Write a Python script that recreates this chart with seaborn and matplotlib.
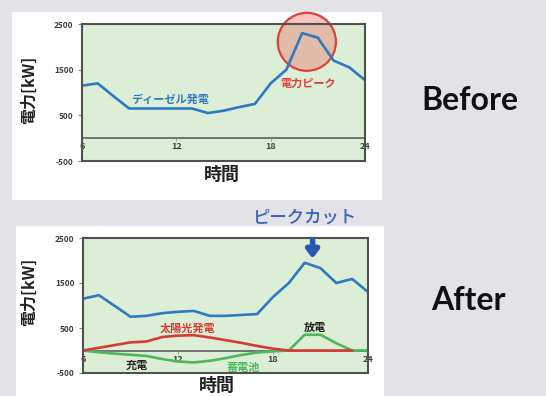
"""Before/after comparison of diesel generation with solar + battery peak cut."""
import pandas as pd
import matplotlib
matplotlib.use("Agg")
import matplotlib.pyplot as plt
from matplotlib.patches import Rectangle, Ellipse
import seaborn as sns

# values (kW per hour of day)
HOURS = list(range(6, 25))
DIESEL_BEFORE = [1150, 1200, 920, 650, 650, 650, 650, 650, 550, 600,
                 680, 750, 1200, 1500, 2300, 2200, 1700, 1550, 1270]
DIESEL_AFTER = [1150, 1230, 990, 750, 770, 830, 860, 880, 770, 770,
                790, 810, 1190, 1500, 1950, 1830, 1500, 1590, 1300]
# solar line stops at 23h in the original
SOLAR = [0, 60, 120, 180, 200, 300, 330, 340, 290, 230,
         170, 100, 40, 0, 0, 0, 0, 0, None]
BATTERY = [0, -40, -70, -95, -120, -190, -245, -265, -230, -170,
           -100, -45, -20, 0, 350, 350, 160, 0, 0]
Y_TICKS = [-500, 500, 1500, 2500]
X_TICKS = [6, 12, 18, 24]

BLUE = "#2f78c4"
RED = "#d83a36"
GREEN = "#4cb85c"
PLOT_BG = "#dcefd6"
PAGE_BG = "#e3e2e6"
JP = ["Noto Sans CJK JP", "DejaVu Sans"]


def _style_axes(ax):
    ax.set_facecolor(PLOT_BG)
    ax.set_xlim(6, 24)
    ax.set_ylim(-500, 2500)
    ax.set_yticks(Y_TICKS)
    ax.set_yticklabels([str(v) for v in Y_TICKS], fontsize=6, color="#404040",
                       fontweight="bold")
    ax.tick_params(axis="y", length=3, width=0.8, color="#888888", pad=3, left=True)
    ax.set_xticks([])
    ax.set_xlabel("")
    ax.axhline(0, color="#6a6a6a", linewidth=1.3, zorder=1)
    for side in ["left", "right", "top", "bottom"]:
        ax.spines[side].set_visible(True)
        ax.spines[side].set_color("#505050")
        ax.spines[side].set_linewidth(1.5)
    # hour labels sit on the zero line, as in the original
    sec = ax.secondary_xaxis(1 / 6)
    sec.set_xticks(X_TICKS)
    sec.set_xticklabels([str(v) for v in X_TICKS], fontsize=6.5, color="#404040",
                        fontweight="bold")
    sec.tick_params(length=2, width=0.6, color="#999999", pad=1)
    sec.spines["bottom"].set_visible(False)


def main():
    sns.set_theme(style="white")
    plt.rcParams["font.family"] = JP

    fig = plt.figure(figsize=(5.46, 3.96), dpi=100)
    fig.patch.set_facecolor(PAGE_BG)
    # white cards behind both charts
    fig.patches.append(Rectangle((12 / 546, 1 - 200 / 396), 370 / 546, 188 / 396,
                                 transform=fig.transFigure, facecolor="white",
                                 edgecolor="none", zorder=-5))
    fig.patches.append(Rectangle((16 / 546, 0), 368 / 546, 170 / 396,
                                 transform=fig.transFigure, facecolor="white",
                                 edgecolor="none", zorder=-5))

    # --- before ---
    before = pd.DataFrame({"hour": HOURS, "kW": DIESEL_BEFORE})
    ax1 = fig.add_axes([82 / 546, 1 - 161 / 396, 283 / 546, 137 / 396])
    sns.lineplot(data=before, x="hour", y="kW", color=BLUE, linewidth=1.9, ax=ax1)
    _style_axes(ax1)
    ax1.set_ylabel("電力[kW]", fontsize=11.5, fontweight="bold", color="#222222")
    ax1.yaxis.set_label_coords(-0.16, 0.52)
    ax1.text(0.495, -0.10, "時間", transform=ax1.transAxes, ha="center", va="center",
             fontsize=13, fontweight="bold", color="#222222")
    ax1.add_patch(Ellipse((20.3, 2110), 3.7, 1270, facecolor=(0.93, 0.45, 0.42, 0.42),
                          edgecolor="#e0403a", linewidth=1.6, zorder=1.5, clip_on=False))
    ax1.text(11.6, 840, "ディーゼル発電", color=BLUE, fontsize=8, fontweight="bold",
             ha="center", va="center")
    ax1.text(20.4, 1210, "電力ピーク", color="#e0403a", fontsize=8, fontweight="bold",
             ha="center", va="center")

    # --- after ---
    after = pd.DataFrame({
        "hour": HOURS * 3,
        "kW": DIESEL_AFTER + SOLAR + BATTERY,
        "source": ["diesel"] * len(HOURS) + ["solar"] * len(HOURS) + ["battery"] * len(HOURS),
    }).dropna()
    ax2 = fig.add_axes([83 / 546, 1 - 373 / 396, 285 / 546, 135 / 396])
    sns.lineplot(data=after, x="hour", y="kW", hue="source",
                 hue_order=["diesel", "battery", "solar"],
                 palette=[BLUE, GREEN, RED], linewidth=1.9, ax=ax2, legend=False)
    _style_axes(ax2)
    ax2.set_ylabel("電力[kW]", fontsize=11.5, fontweight="bold", color="#222222")
    ax2.yaxis.set_label_coords(-0.16, 0.60)
    ax2.text(0.47, -0.09, "時間", transform=ax2.transAxes, ha="center", va="center",
             fontsize=13, fontweight="bold", color="#222222")
    ax2.text(12.6, 500, "太陽光発電", color=RED, fontsize=8, fontweight="bold",
             ha="center", va="center")
    ax2.text(20.65, 520, "放電", color="#202020", fontsize=8, fontweight="bold",
             ha="center", va="center")
    ax2.text(9.4, -330, "充電", color="#202020", fontsize=8, fontweight="bold",
             ha="center", va="center")
    ax2.text(16.1, -370, "蓄電池", color=GREEN, fontsize=8, fontweight="bold",
             ha="center", va="center")
    ax2.annotate("", xy=(20.5, 1980), xytext=(20.5, 2520),
                 arrowprops=dict(arrowstyle="-|>,head_width=0.3,head_length=0.4",
                                 color="#2a58b0", lw=4),
                 annotation_clip=False)

    fig.text(305 / 546, 1 - 218 / 396, "ピークカット", color="#3a62c0", fontsize=12.5,
             fontweight="medium", ha="center", va="center")
    fig.text(470 / 546, 1 - 100 / 396, "Before", family="Lato", fontweight="bold",
             fontsize=23, color="#111111", ha="center", va="center")
    fig.text(468 / 546, 1 - 300 / 396, "After", family="Lato", fontweight="bold",
             fontsize=23, color="#111111", ha="center", va="center")

    fig.savefig("out.png", dpi=100, facecolor=fig.get_facecolor())


if __name__ == "__main__":
    main()
